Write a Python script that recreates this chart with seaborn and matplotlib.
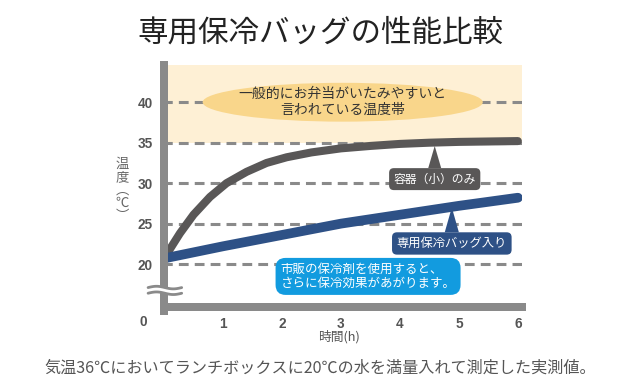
import numpy as np
import pandas as pd
import matplotlib
matplotlib.use("Agg")
import matplotlib.pyplot as plt
import seaborn as sns
from matplotlib.patches import Ellipse, Rectangle

# ---- data ----
hours_container = [0, 0.07, 0.27, 0.5, 0.78, 1.06, 1.4, 1.74, 2.08, 2.5, 3, 3.5, 4, 4.5, 5, 5.5, 6]
temp_container = [21.0, 21.5, 23.8, 26.1, 28.3, 30.0, 31.4, 32.5, 33.2, 33.8, 34.3, 34.6, 34.85, 35.0, 35.1, 35.15, 35.2]
hours_bag = [0, 1, 2, 3, 4, 5, 6]
temp_bag = [20.7, 22.2, 23.6, 25.0, 26.1, 27.2, 28.2]
series_names = ["容器（小）のみ", "専用保冷バッグ入り"]
danger_band = [35, 44.6]
y_ticks = [20, 25, 30, 35, 40]
x_ticks = [1, 2, 3, 4, 5, 6]
title = "専用保冷バッグの性能比較"
band_label = "一般的にお弁当がいたみやすいと\n言われている温度帯"
tip_label = "市販の保冷剤を使用すると、\nさらに保冷効果があがります。"
footnote = "気温36℃においてランチボックスに20℃の水を満量入れて測定した実測値。"

GRAY = "#595757"
NAVY = "#2E5186"
BLUE = "#129BDF"
AXIS = "#8a8a8a"

df_c = pd.DataFrame({"hour": hours_container, "temp": temp_container, "series": series_names[0]})
df_b = pd.DataFrame({"hour": hours_bag, "temp": temp_bag, "series": series_names[1]})

sns.set_theme(style="white")
plt.rcParams["font.family"] = ["Noto Sans CJK JP", "DejaVu Sans"]

fig = plt.figure(figsize=(6.4, 3.92), dpi=100)
ax = fig.add_axes([164 / 640, 85 / 392, 358 / 640, 242 / 392])

ax.set_xlim(0, 6.07)
ax.set_ylim(14.7, 44.6)

# band
ax.axhspan(danger_band[0], danger_band[1], color="#FEF0D5", lw=0, zorder=0)
# grid
for yv in y_ticks:
    ax.axhline(yv, color=AXIS, lw=2.2, ls=(0.5, (3.2, 2.0)), zorder=1)

# ellipse
ax.add_patch(Ellipse((3.03, 40), 4.75, 4.8, fc="#F9D68B", ec="none", zorder=2))
ax.text(3.03, 40.05, band_label, ha="center", va="center", fontsize=10.0,
        color="#333333", linespacing=1.2, zorder=3)

# lines
sns.lineplot(data=df_c, x="hour", y="temp", color=GRAY, linewidth=5.8,
             solid_capstyle="round", ax=ax, legend=False, zorder=4)
sns.lineplot(data=df_b, x="hour", y="temp", color=NAVY, linewidth=7.0,
             solid_capstyle="round", ax=ax, legend=False, zorder=4)

# annotations
ax.annotate(series_names[0], xy=(4.59, 34.6), xytext=(4.59, 30.5),
            ha="center", va="center", color="white", fontsize=8.5,
            bbox=dict(boxstyle="round,pad=0.38,rounding_size=0.4", fc=GRAY, ec="none"),
            arrowprops=dict(arrowstyle="wedge,tail_width=1.1,shrink_factor=0.5",
                            fc=GRAY, ec="none", shrinkA=0, shrinkB=0),
            zorder=3.5)
ax.annotate(series_names[1], xy=(4.88, 27.0), xytext=(4.88, 22.55),
            ha="center", va="center", color="white", fontsize=8.85,
            bbox=dict(boxstyle="round,pad=0.38,rounding_size=0.4", fc=NAVY, ec="none"),
            arrowprops=dict(arrowstyle="wedge,tail_width=1.15,shrink_factor=0.5",
                            fc=NAVY, ec="none", shrinkA=0, shrinkB=0),
            zorder=3.5)
ax.text(3.46, 18.48, tip_label, ha="center", va="center", ma="left", color="white",
        fontsize=9.0, linespacing=1.1, zorder=3.5,
        bbox=dict(boxstyle="round,pad=0.4,rounding_size=0.8", fc=BLUE, ec="none"))

# spines
for side in ["top", "right"]:
    ax.spines[side].set_visible(False)
for side in ["left", "bottom"]:
    ax.spines[side].set_color(AXIS)
    ax.spines[side].set_linewidth(5.76)
    ax.spines[side].set_zorder(5)
ax.spines["left"].set_bounds(14.7 - 4 / 8.1, 44.6)

# ticks
ax.set_yticks(y_ticks)
ax.set_yticklabels([str(v) for v in y_ticks], fontfamily="Liberation Sans",
                   fontweight="bold", fontsize=9.8, color="#555555")
ax.set_xticks(x_ticks)
ax.set_xticklabels([str(v) for v in x_ticks], fontfamily="Liberation Sans",
                   fontweight="bold", fontsize=9.8, color="#555555")
ax.tick_params(axis="y", length=0, pad=8)
ax.tick_params(axis="x", direction="in", length=4.5, width=5, color=AXIS, pad=7)
for t in ax.xaxis.get_major_ticks():
    t.tick1line.set_zorder(5)
ax.xaxis.get_major_ticks()[-1].tick1line.set_markersize(7.2)
ax.text(-0.356, 12.86, "0", ha="center", va="center", fontfamily="Liberation Sans",
        fontweight="bold", fontsize=9.8, color="#555555", clip_on=False)

# labels
ax.set_xlabel("時間(h)", fontsize=9.2, color="#555555")
ax.xaxis.set_label_coords((339 - 164) / 358, (307 - 337) / 242)
ax.xaxis.label.set_va("center")
ax.set_ylabel("温\n度\n︵\n℃\n︶", rotation=0, fontsize=9.6, color="#666666",
              linespacing=0.9)
ax.yaxis.set_label_coords((122 - 164) / 358, (307 - 190) / 242)
ax.yaxis.label.set_va("center")
ax.yaxis.label.set_ha("center")

# axis break mark
ax.add_patch(Rectangle((-0.12, 16.45), 0.24, 0.6, fc="white", ec="none",
                       zorder=6, clip_on=False))
t = np.linspace(0, 1, 60)
xs = -0.27 + 0.57 * t
for y0 in (17.1, 16.4):
    ax.plot(xs, y0 + 0.16 * np.sin(2 * np.pi * t), color=AXIS, lw=2.0,
            zorder=7, clip_on=False, solid_capstyle="round")

ax.set_facecolor("white")
fig.text(0.5, 1 - 33.5 / 392, title, ha="center", va="center", fontsize=22, color="#222222")
fig.text(0.5, 1 - 368 / 392, footnote, ha="center", va="center", fontsize=11.6, color="#555555")

fig.savefig("out.png", dpi=100)
